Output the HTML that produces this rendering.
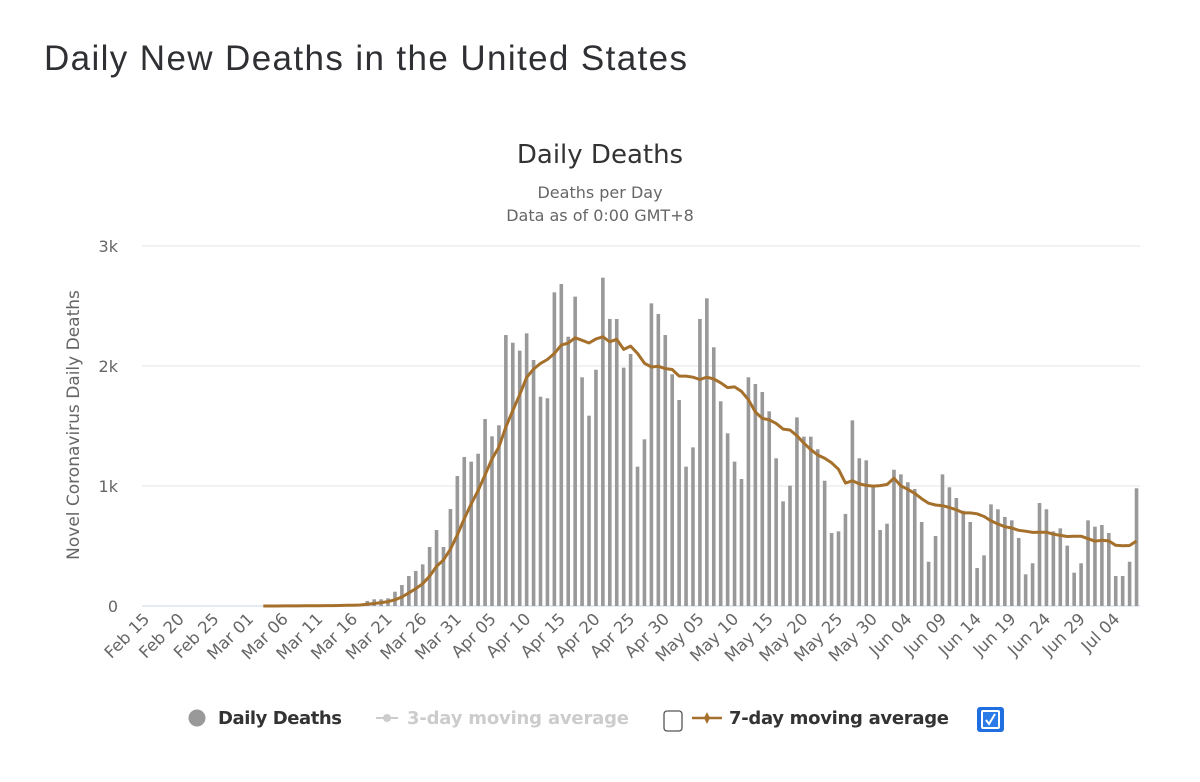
<!DOCTYPE html>
<html><head><meta charset="utf-8"><style>
body{margin:0;background:#fff;}
svg{display:block;font-family:"Liberation Sans","DejaVu Sans",sans-serif;}
</style></head><body>
<svg id="chart" width="1200" height="782" viewBox="0 0 1200 782">
<text x="44" y="70" font-size="35" fill="#2f3033" textLength="643">Daily New Deaths in the United States</text>
<text x="600" y="163" font-size="26" fill="#333" text-anchor="middle" font-family="DejaVu Sans, sans-serif">Daily Deaths</text>
<text x="600" y="198" font-size="16" fill="#666" text-anchor="middle" font-family="DejaVu Sans, sans-serif">Deaths per Day</text>
<text x="600" y="221" font-size="16" fill="#666" text-anchor="middle" font-family="DejaVu Sans, sans-serif">Data as of 0:00 GMT+8</text>
<text transform="translate(79,425) rotate(-90)" font-size="17" fill="#666" text-anchor="middle" font-family="DejaVu Sans, sans-serif">Novel Coronavirus Daily Deaths</text>
<g id="grid"></g><g id="bars"></g><g id="line"></g><g id="xlabels"></g>
<g font-family="DejaVu Sans, sans-serif" font-size="18" font-weight="bold">
 <g><circle cx="197" cy="718" r="8.5" fill="#999"/><text x="218" y="724" fill="#333" textLength="124">Daily Deaths</text></g>
 <g><line x1="376" y1="718" x2="398" y2="718" stroke="#ccc" stroke-width="2"/><circle cx="387" cy="718" r="4" fill="#ccc"/><text x="407" y="724" fill="#ccc" textLength="222">3-day moving average</text></g>
 <rect x="664" y="711" width="18" height="20" rx="3" fill="#fff" stroke="#555" stroke-width="1.3"/>
 <g><line x1="692" y1="718" x2="722" y2="718" stroke="#a5702c" stroke-width="2.5"/><path d="M707 712 L710 718 L707 724 L704 718Z" fill="#a5702c"/><text x="729" y="724" fill="#333" textLength="220">7-day moving average</text></g>
 <g><rect x="977" y="707" width="27" height="25" rx="3" fill="#1f6fe0"/><rect x="981" y="710" width="19" height="19" rx="2" fill="#fff"/><rect x="983" y="712" width="15" height="15" fill="#2b7be8"/><path d="M986 720 L989 724 L995 714" stroke="#fff" stroke-width="2" fill="none"/></g>
</g>
</svg>
<script>
const startDate = [2020, 1, 15];
const yTicks = [0, 1000, 2000, 3000];
const yTickLabels = ["0", "1k", "2k", "3k"];
const dailyDeaths = [0,0,0,0,0,0,0,0,0,0,0,0,0,0,0,0,0,
1,0,1,1,2,2,4,3,4,5,6,8,10,12,14,
42,56,56,64,119,175,250,292,347,492,633,492,808,1083,1242,1203,1269,1558,1414,1506,
2258,2194,2128,2272,2050,1744,1731,2614,2683,2244,2578,1906,1586,1969,2736,2392,2392,
1986,2100,1161,1389,2522,2433,2258,1931,1717,1161,1322,2392,2564,2156,1706,1439,1203,1058,
1906,1850,1783,1622,1231,872,1003,1572,1411,1411,1306,1044,608,622,767,1547,1231,1214,1008,
633,686,1136,1097,1031,975,700,369,583,1097,989,900,794,700,317,422,847,806,742,714,567,
264,356,858,806,622,647,503,278,356,714,661,675,608,250,250,369,981];
const lineStartIndex = [17];

const X0=142, X1=1140, Y0=606, Y1=246, YMAX=3000;
const n = dailyDeaths.length, bw=(X1-X0)/n;
const xc = i => X0 + (i+0.5)*bw;
const yv = v => Y0 - v/YMAX*(Y0-Y1);
const NS="http://www.w3.org/2000/svg";
function mk(tag, parent, attrs){const e=document.createElementNS(NS,tag);for(const k in attrs)e.setAttribute(k,attrs[k]);parent.appendChild(e);return e;}
const grid=document.getElementById('grid');
yTicks.forEach((t,i)=>{
  const l=mk('line',grid,{x1:X0,x2:X1,y1:yv(t),y2:yv(t),stroke:i===0?'#ccd6eb':'#e6e6e6','stroke-width':1});
  
  
  const tx=mk('text',grid,{x:118,y:yv(t)+6,'text-anchor':'end','font-size':16,fill:'#666','font-family':'DejaVu Sans, sans-serif'});
  tx.textContent=yTickLabels[i];
  
  
});
const bars=document.getElementById('bars');
dailyDeaths.forEach((v,i)=>{
  if(v<=0) return;
  const r=mk('rect',bars,{x:xc(i)-1.8,y:yv(v),width:3.6,height:Y0-yv(v),fill:'#999'});
  
  
});
let d='';
for(let i=lineStartIndex[0];i<n;i++){
  let s=0;for(let j=Math.max(0,i-6);j<=i;j++){s+=dailyDeaths[j];}
  const m=s/7;
  d+=(d?'L':'M')+xc(i).toFixed(1)+' '+yv(m).toFixed(1);
}
const p=mk('path',document.getElementById('line'),{d:d,fill:'none',stroke:'#a5702c','stroke-width':3,'stroke-linejoin':'round'});


const mon=["Jan","Feb","Mar","Apr","May","Jun","Jul","Aug"];
const xl=document.getElementById('xlabels');
for(let i=0;i<n;i+=5){
  const dt=new Date(startDate[0],startDate[1],startDate[2]+i);
  const lab=mon[dt.getMonth()]+' '+String(dt.getDate()).padStart(2,'0');
  const x=xc(i)+5,y=620;
  const t=mk('text',xl,{x:x,y:y,transform:`rotate(-45 ${x} ${y})`,'text-anchor':'end','font-size':16.5,fill:'#666','font-family':'DejaVu Sans, sans-serif'});
  t.textContent=lab;
  
  
}
</script>
</body></html>
